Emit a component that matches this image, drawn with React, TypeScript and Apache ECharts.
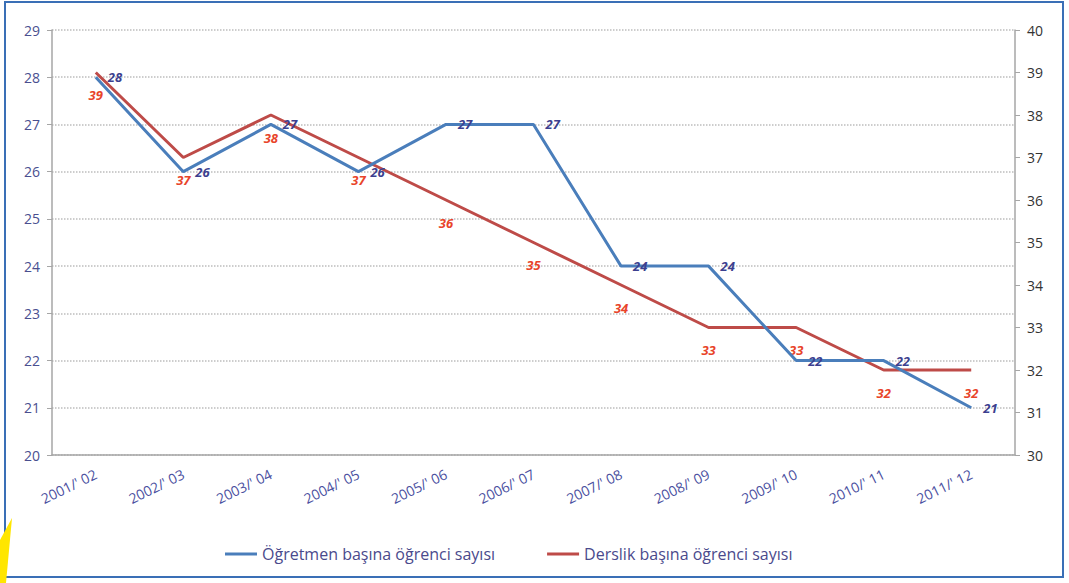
import React, { useEffect, useRef } from "react";
import * as echarts from "echarts";

const categories = [
  "2001/' 02", "2002/' 03", "2003/' 04", "2004/' 05", "2005/' 06", "2006/' 07",
  "2007/' 08", "2008/' 09", "2009/' 10", "2010/' 11", "2011/' 12",
];
const ogretmenValues = [28, 26, 27, 26, 27, 27, 24, 24, 22, 22, 21];
const derslikValues = [39, 37, 38, 37, 36, 35, 34, 33, 33, 32, 32];
const seriesNames = ["Öğretmen başına öğrenci sayısı", "Derslik başına öğrenci sayısı"];

const BLUE = "#4a7ebb";
const RED = "#be4b48";
const FONT = "'Open Sans', 'Liberation Sans', sans-serif";

export default function App() {
  const ref = useRef<HTMLDivElement>(null);
  useEffect(() => {
    if (!ref.current) return;
    const chart = echarts.init(ref.current, null, { renderer: "svg" });
    chart.setOption({
      animation: false,
      backgroundColor: "#ffffff",
      textStyle: { fontFamily: FONT },
      graphic: [
        {
          type: "rect",
          shape: { x: 5, y: 2, width: 1058, height: 575 },
          style: { fill: "none", stroke: "#3a6fb6", lineWidth: 2 },
          z: 0,
        },
        {
          type: "polygon",
          shape: { points: [[0, 540], [12, 518], [6, 583], [0, 583]] },
          style: { fill: "#ffe600" },
        },
      ],
      grid: { left: 52, right: 54, top: 30, bottom: 128 },
      legend: {
        bottom: 16,
        left: 220,
        itemGap: 52,
        itemWidth: 32,
        itemHeight: 3,
        icon: "rect",
        textStyle: { color: "#4a4a8c", fontSize: 16, fontFamily: FONT },
        data: seriesNames,
      },
      xAxis: {
        type: "category",
        data: categories,
        boundaryGap: true,
        axisLine: { lineStyle: { color: "#a6a6a6", width: 1.5 } },
        axisTick: { show: false },
        axisLabel: {
          rotate: 26,
          color: "#4a4fa0",
          fontSize: 14,
          margin: 18,
          interval: 0,
        },
      },
      yAxis: [
        {
          type: "value",
          min: 20,
          max: 29,
          interval: 1,
          axisLine: { show: true, lineStyle: { color: "#a6a6a6", width: 1.5 } },
          axisTick: { show: true, length: 5, lineStyle: { color: "#a6a6a6" } },
          axisLabel: { color: "#4a4f8f", fontSize: 14, margin: 12 },
          splitLine: { show: true, lineStyle: { color: "#bdbdbd", type: "dotted", width: 1.5 } },
        },
        {
          type: "value",
          min: 30,
          max: 40,
          interval: 1,
          position: "right",
          axisLine: { show: true, lineStyle: { color: "#a6a6a6", width: 1.5 } },
          axisTick: { show: true, length: 5, lineStyle: { color: "#a6a6a6" } },
          axisLabel: { color: "#333333", fontSize: 14, margin: 12 },
          splitLine: { show: false },
        },
      ],
      series: [
        {
          name: seriesNames[0],
          type: "line",
          yAxisIndex: 0,
          data: ogretmenValues,
          symbol: "circle",
          symbolSize: 0,
          showSymbol: true,
          lineStyle: { color: BLUE, width: 3 },
          itemStyle: { color: BLUE },
          label: {
            show: true,
            position: "right",
            distance: 12,
            color: "#3c3f8f",
            fontStyle: "italic",
            fontWeight: "bold",
            fontSize: 13,
          },
          labelLayout: { hideOverlap: false },
          z: 3,
        },
        {
          name: seriesNames[1],
          type: "line",
          yAxisIndex: 1,
          data: derslikValues,
          symbol: "circle",
          symbolSize: 0,
          showSymbol: true,
          lineStyle: { color: RED, width: 3 },
          itemStyle: { color: RED },
          label: {
            show: true,
            position: "bottom",
            distance: 16,
            color: "#e8442a",
            fontStyle: "italic",
            fontWeight: "bold",
            fontSize: 13,
          },
          labelLayout: { hideOverlap: false },
          z: 2,
        },
      ],
    });
    return () => chart.dispose();
  }, []);
  return (
    <div
      ref={ref}
      style={{ position: "fixed", left: 0, top: 0, width: 1069, height: 583 }}
    />
  );
}
